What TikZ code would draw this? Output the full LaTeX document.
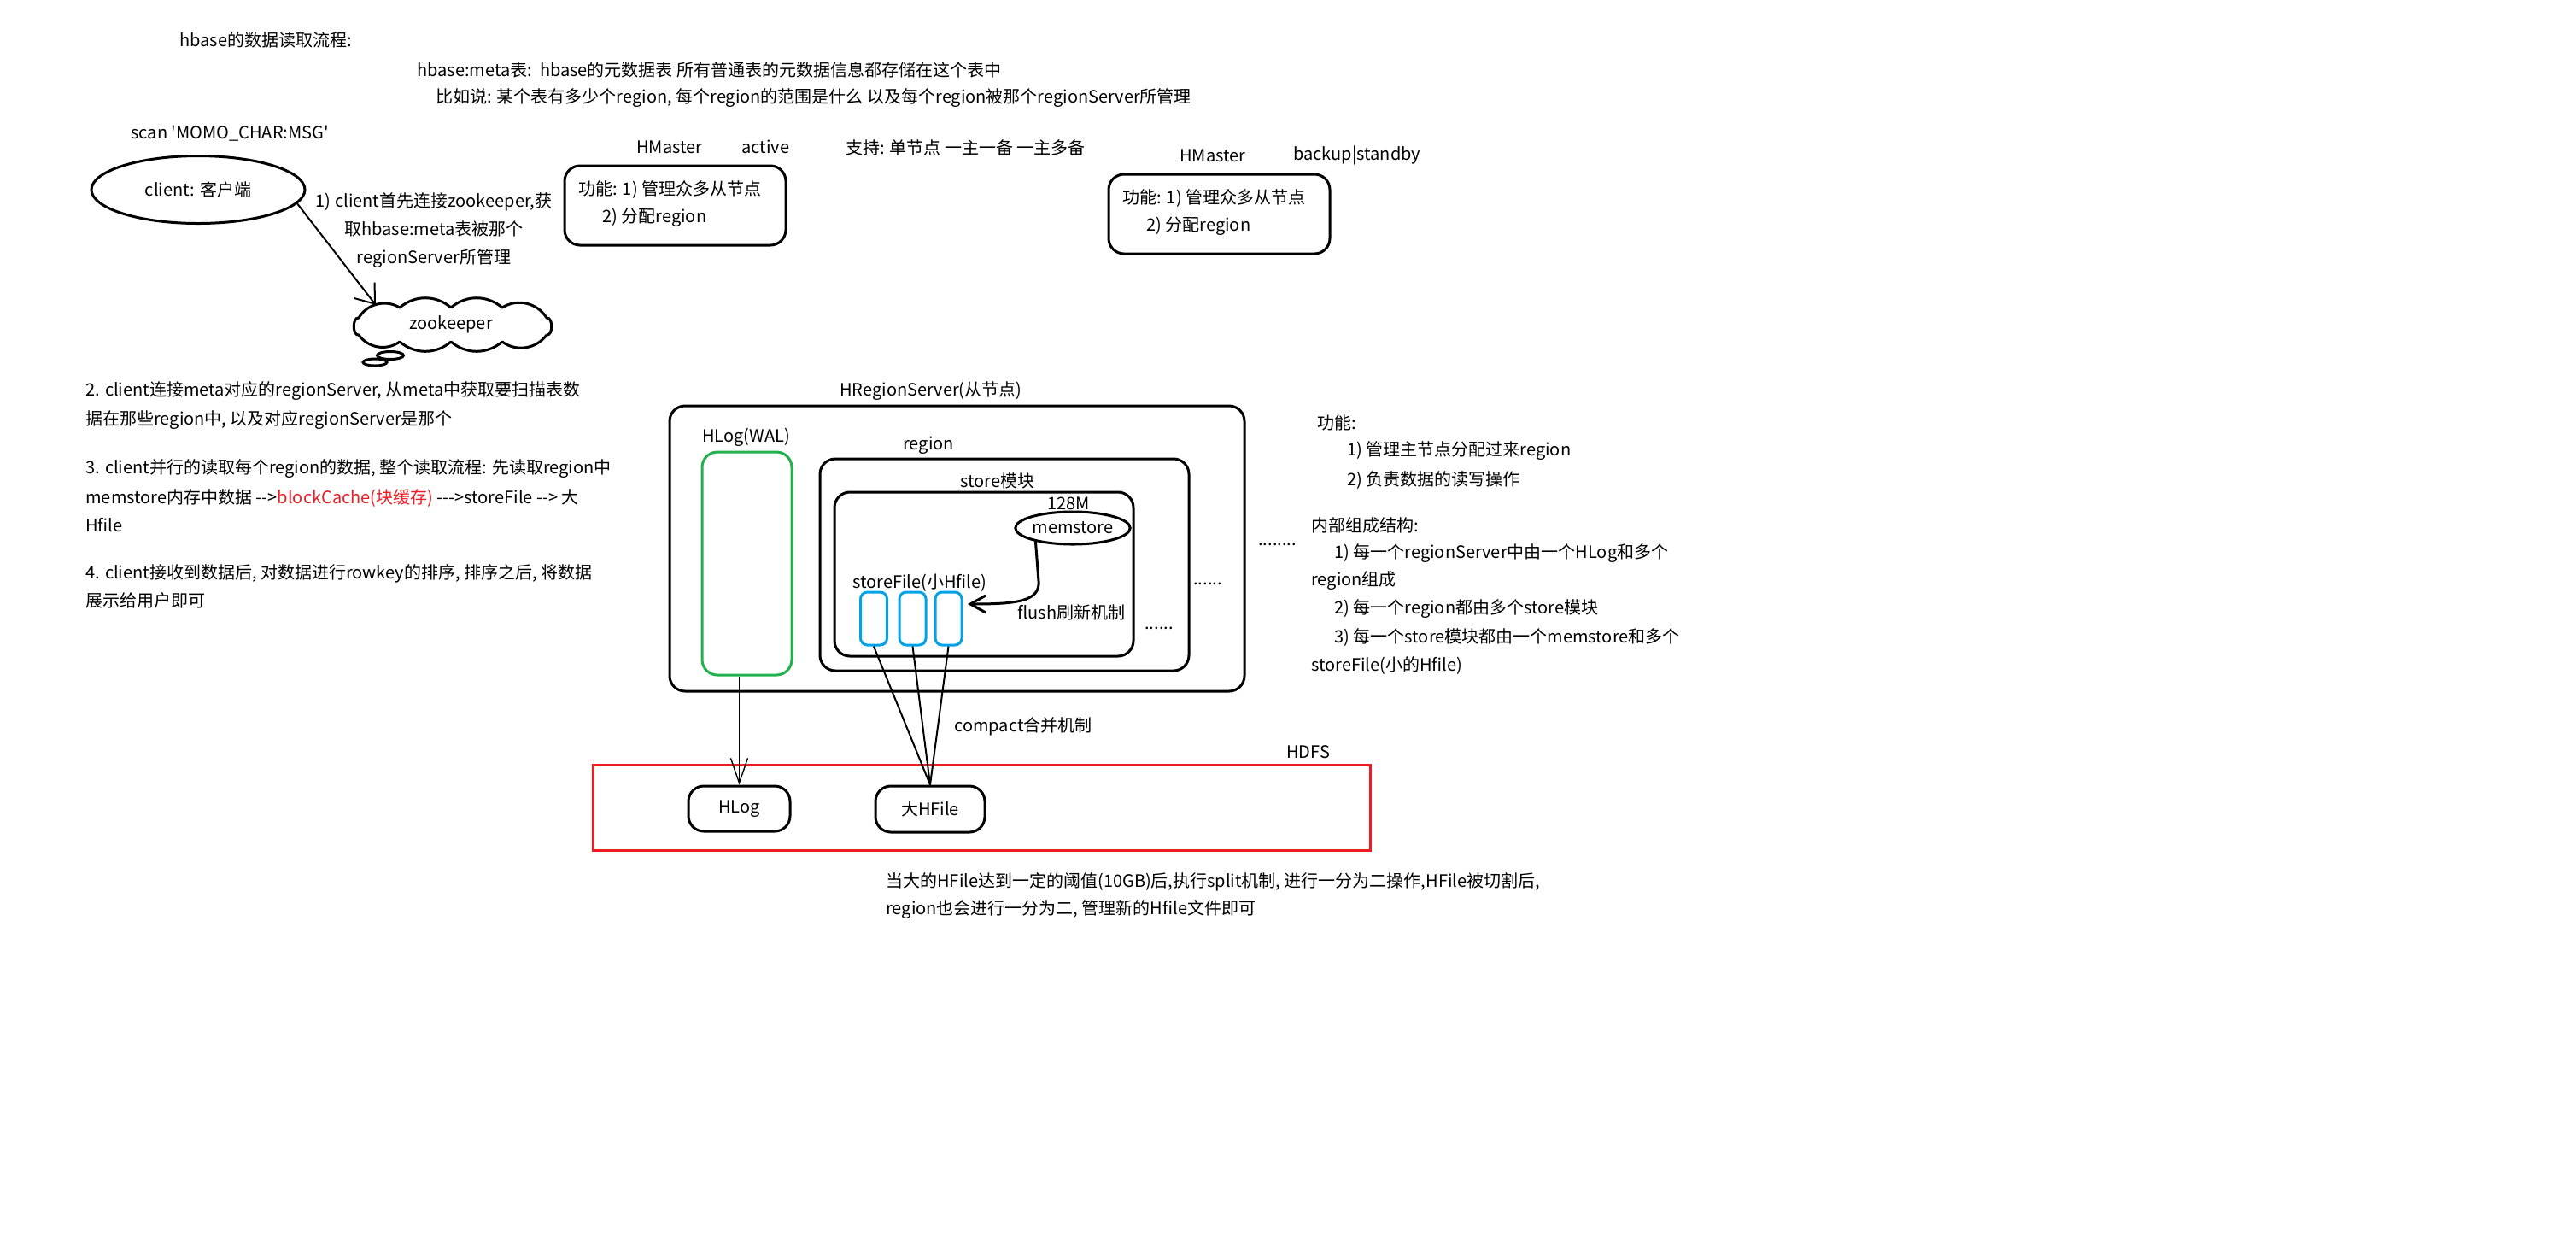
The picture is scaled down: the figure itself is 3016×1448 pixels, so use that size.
\documentclass[tikz,border=0pt]{standalone}
\usepackage{fontspec}
\setmainfont{Noto Sans CJK SC}
\usetikzlibrary{shapes.geometric,arrows.meta}
\definecolor{walgreen}{HTML}{22B14C}
\definecolor{fileblue}{HTML}{00A2E8}
\definecolor{hdfsred}{HTML}{ED1C24}
\begin{document}
\begin{tikzpicture}[x=0.5pt,y=-0.5pt,
  txt/.style={anchor=west,inner sep=0pt,font=\fontsize{10pt}{12pt}\selectfont},
  box/.style={draw,line width=1.5pt,rounded corners=9pt,inner sep=0pt,font=\fontsize{10pt}{12pt}\selectfont},
  oval/.style={draw,ellipse,line width=1.5pt,inner sep=0pt,font=\fontsize{10pt}{12pt}\selectfont},
  sfile/.style={draw=fileblue,line width=1.5pt,rounded corners=4pt,minimum width=15.5pt,minimum height=31pt,inner sep=0pt},
  link/.style={line width=1pt}]
  \useasboundingbox (0,0) rectangle (3016,1448);

  % Header
  \node[txt] (title) at (210,47) {hbase的数据读取流程:};
  \node[txt] (meta) at (488,82) {hbase:meta表:\ \ hbase的元数据表 所有普通表的元数据信息都存储在这个表中};
  \node[txt] (metaeg) at (510,115) {比如说: 某个表有多少个region, 每个region的范围是什么 以及每个region被那个regionServer所管理};
  \node[txt] (scan) at (153,156) {scan \textquotesingle MOMO\_CHAR:MSG\textquotesingle};

  % Client and zookeeper
  \node[oval,minimum width=125pt,minimum height=39.5pt] (cl) at (232,222) {client: 客户端};
  \node[inner sep=0pt,font=\fontsize{10pt}{12pt}\selectfont] (zk) at (528,380) {zookeeper};
  % Cloud puffs
  \draw[line width=1.5pt,line join=round] ([shift={(112,12)}]zk.center)
    \foreach \p/\q/\b in {112/-8/100,60/-20/45,0/-20/40,-60/-20/40,-108/-8/45,-108/12/100,-60/20/45,0/20/40,60/20/40,112/12/45}
    { to[bend right=\b] ([shift={(\p,\q)}]zk.center) };
  \node[oval,minimum width=15.5pt,minimum height=4.5pt] (zkb1) at (457,416) {};
  \node[oval,minimum width=14pt,minimum height=4pt] (zkb2) at (439,424) {};
  \coordinate (zkin) at ([shift={(-88,-23)}]zk.center);
  \draw[link,-{Straight Barb[length=10pt,width=15pt]}] (cl.-8) -- (zkin);
  \node[align=center,inner sep=0pt,font=\fontsize{10pt}{16.5pt}\selectfont] (step1) at (508,270) {1) client首先连接zookeeper,获\\取hbase:meta表被那个\\regionServer所管理};

  % HMaster
  \node[txt] (hm1) at (745,172) {HMaster};
  \node[txt] (hm1s) at (868,172) {active};
  \node[txt] (ha) at (990,173) {支持: 单节点 一主一备 一主多备};
  \node[txt] (hm2) at (1381,182) {HMaster};
  \node[txt] (hm2s) at (1514,182) {backup|standby};
  \foreach \i/\cx/\cy in {1/790.5/240.5,2/1427.5/250.5}
  {
    \node[box,minimum width=129.5pt,minimum height=46.5pt] (hmbox\i) at (\cx,\cy) {};
    \node[txt] (hmfa\i) at ({\cx-113.5},{\cy-18.5}) {功能: 1) 管理众多从节点};
    \node[txt] (hmfb\i) at ({\cx-85.5},{\cy+14.5}) {2) 分配region};
  }

  % Read steps
  \node[txt] (s2a) at (100,458) {2. client连接meta对应的regionServer, 从meta中获取要扫描表数};
  \node[txt] (s2b) at (100,492) {据在那些region中, 以及对应regionServer是那个};
  \node[txt] (s3a) at (100,549) {3. client并行的读取每个region的数据, 整个读取流程: 先读取region中};
  \node[txt] (s3b) at (100,583) {memstore内存中数据 -{}->\textcolor{hdfsred}{blockCache(块缓存)} -{}-{}->storeFile -{}-> 大};
  \node[txt] (s3c) at (100,615) {Hfile};
  \node[txt] (s4a) at (100,671) {4. client接收到数据后, 对数据进行rowkey的排序, 排序之后, 将数据};
  \node[txt] (s4b) at (100,703) {展示给用户即可};

  % Region server
  \node[txt] (rst) at (983,458) {HRegionServer(从节点)};
  \node[box,minimum width=336.5pt,minimum height=167pt] (rs) at (1120.5,642) {};
  \node[txt] (walt) at (822,512) {HLog(WAL)};
  \node[box,draw=walgreen,minimum width=52.5pt,minimum height=130.5pt] (wal) at (874.5,659.5) {};
  \node[txt] (rgt) at (1057,521) {region};
  \node[box,minimum width=216pt,minimum height=124pt] (rg) at (1176,661) {};
  \node[txt] (stt) at (1124,563) {store模块};
  \node[box,minimum width=175pt,minimum height=96pt] (st) at (1152,672) {};
  \node[txt] (msize) at (1226,589) {128M};
  \node[oval,minimum width=59.5pt,minimum height=19pt] (ms) at (1256,618) {memstore};
  \node[txt] (sft) at (998,682) {storeFile(小Hfile)};
  \foreach \i/\x in {1/1023,2/1068.5,3/1110.5}
    \node[sfile] (sf\i) at (\x,724) {};
  \node[txt] (flt) at (1191,717) {flush刷新机制};
  \node[txt] (dots1) at (1340,735) {......};
  \node[txt] (dots2) at (1397,683) {......};
  \node[txt] (dots3) at (1473,637) {........};

  % Flush
  \coordinate (flend) at (1133,707);
  \draw[line width=1.5pt,-{Straight Barb[length=9pt,width=10pt]}] (ms.200) -- (1216,680) .. controls (1218,704) and (1190,707) .. (flend);

  % Region server notes
  \node[txt] (fn) at (1542,495) {功能:};
  \node[txt] (fn1) at (1577,528) {1) 管理主节点分配过来region};
  \node[txt] (fn2) at (1577,562) {2) 负责数据的读写操作};
  \node[txt] (inn) at (1535,615) {内部组成结构:};
  \node[txt] (in1) at (1562,648) {1) 每一个regionServer中由一个HLog和多个};
  \node[txt] (in1b) at (1535,680) {region组成};
  \node[txt] (in2) at (1562,713) {2) 每一个region都由多个store模块};
  \node[txt] (in3) at (1562,746) {3) 每一个store模块都由一个memstore和多个};
  \node[txt] (in3b) at (1535,779) {storeFile(小的Hfile)};

  % HDFS
  \node[txt] (cpt) at (1117,850) {compact合并机制};
  \node[txt] (hdt) at (1506,880) {HDFS};
  \node[draw=hdfsred,line width=1.5pt,minimum width=455pt,minimum height=50pt,inner sep=0pt] (hdfs) at (1149,945) {};
  \node[box,minimum width=59.5pt,minimum height=26.5pt] (hlog) at (865.5,946.5) {HLog};
  \node[box,minimum width=64pt,minimum height=27pt] (big) at (1089,947) {大HFile\hspace{14pt}};
  \draw[line width=0.7pt,-{Straight Barb[length=14.5pt,width=10pt]}] (wal.south -| hlog.north) -- (hlog.north);
  \foreach \i in {1,2,3}
    \draw[link] (sf\i.south) -- (big.north);

  % Split note
  \node[txt] (note1) at (1037,1032) {当大的HFile达到一定的阈值(10GB)后,执行split机制, 进行一分为二操作,HFile被切割后,};
  \node[txt] (note2) at (1037,1065) {region也会进行一分为二, 管理新的Hfile文件即可};
\end{tikzpicture}
\end{document}
